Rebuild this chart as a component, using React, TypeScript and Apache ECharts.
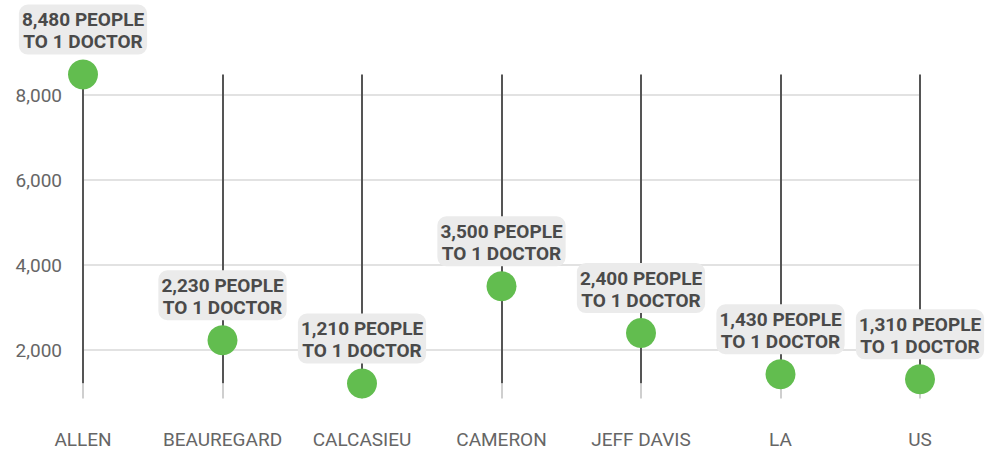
import React, { useEffect, useRef } from "react";
import * as echarts from "echarts";

const categories = ["ALLEN", "BEAUREGARD", "CALCASIEU", "CAMERON", "JEFF DAVIS", "LA", "US"];
const peoplePerDoctor = [8480, 2230, 1210, 3500, 2400, 1430, 1310];
const yTickValues = [2000, 4000, 6000, 8000];

const fmt = (v: number) => v.toLocaleString("en-US");

export default function App() {
  const ref = useRef<HTMLDivElement>(null);
  useEffect(() => {
    if (!ref.current) return;
    const chart = echarts.init(ref.current, undefined, { renderer: "svg" });
    chart.setOption({
      animation: false,
      textStyle: { fontFamily: "Roboto" },
      grid: { left: 83, right: 76, top: 74.6, bottom: 452 - 383.6, containLabel: false },
      xAxis: {
        type: "category",
        data: categories,
        boundaryGap: false,
        axisLine: { show: false },
        axisTick: { show: true, interval: 0, length: 15, lineStyle: { color: "#cfcfcf", width: 2 } },
        axisLabel: { interval: 0, color: "#666", fontSize: 19, fontFamily: "Roboto", margin: 46 },
        splitLine: { show: true, interval: 0, lineStyle: { color: "#555", width: 2 } },
      },
      yAxis: {
        type: "value",
        min: "dataMin",
        max: "dataMax",
        axisLine: { show: false },
        axisTick: { show: false, customValues: yTickValues },
        axisLabel: {
          customValues: yTickValues,
          color: "#666",
          fontSize: 19,
          fontFamily: "Roboto",
          margin: 21,
          formatter: (v: number) => fmt(v),
        },
        splitLine: { show: true, lineStyle: { color: "#e2e2e2", width: 2 } },
      },
      series: [
        {
          type: "scatter",
          data: peoplePerDoctor,
          symbol: "circle",
          symbolSize: 30,
          itemStyle: { color: "#62bd4f", opacity: 1 },
          z: 5,
          label: {
            show: true,
            position: "top",
            distance: 5,
            formatter: (p: any) => `${fmt(p.value)} PEOPLE\nTO 1 DOCTOR`,
            fontFamily: "Roboto",
            fontWeight: "bold",
            fontSize: 19,
            lineHeight: 22,
            color: "#4a4a4a",
            backgroundColor: "#ebebeb",
            borderRadius: 9,
            padding: [4, 3, 2, 3],
            align: "center",
          },
        },
      ],
    });
    return () => chart.dispose();
  }, []);
  return (
    <div
      ref={ref}
      style={{ position: "fixed", left: 0, top: 0, width: 996, height: 452, background: "#fff" }}
    />
  );
}
